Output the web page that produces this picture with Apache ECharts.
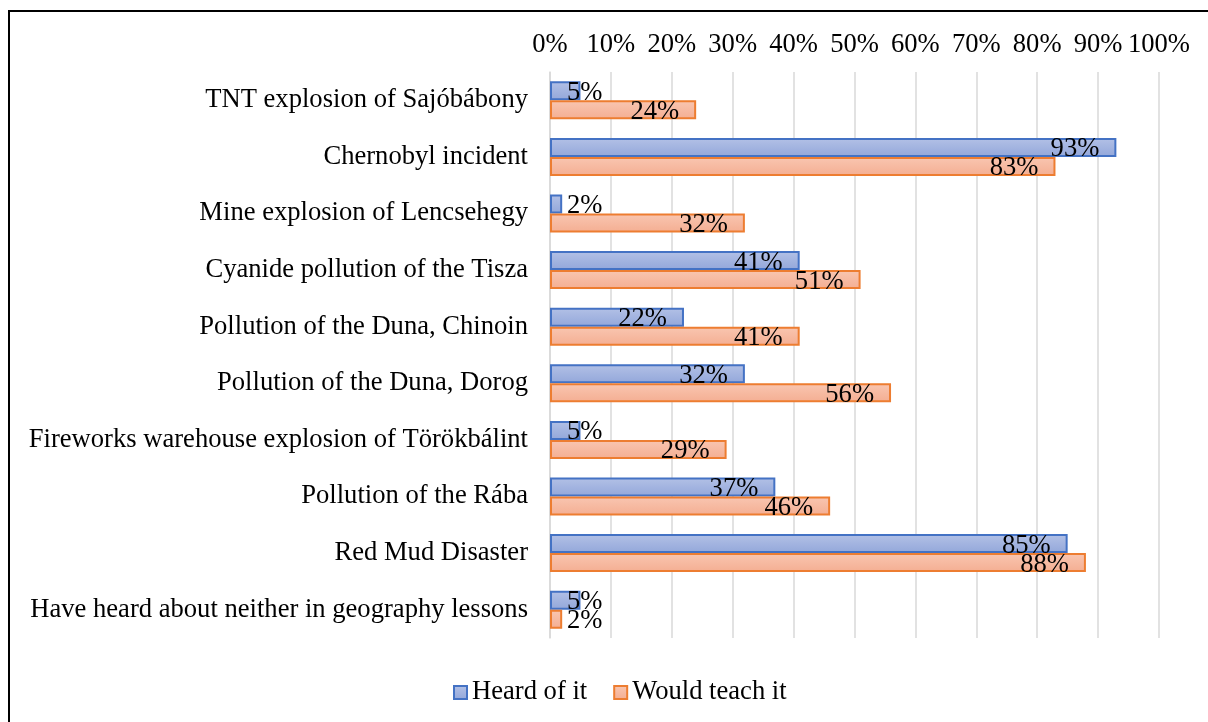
<!DOCTYPE html>
<html>
<head>
<meta charset="utf-8">
<script src="https://cdn.jsdelivr.net/npm/echarts@6/dist/echarts.min.js"></script>
<style>html,body{margin:0;padding:0;background:#fff}#c{width:1208px;height:722px}</style>
</head>
<body>
<div id="c"></div>
<script>
const categories = [
  "TNT explosion of Sajóbábony",
  "Chernobyl incident",
  "Mine explosion of Lencsehegy",
  "Cyanide pollution of the Tisza",
  "Pollution of the Duna, Chinoin",
  "Pollution of the Duna, Dorog",
  "Fireworks warehouse explosion of Törökbálint",
  "Pollution of the Rába",
  "Red Mud Disaster",
  "Have heard about neither in geography lessons"
];
const heardOfIt = [5, 93, 2, 41, 22, 32, 5, 37, 85, 5];
const wouldTeachIt = [24, 83, 32, 51, 41, 56, 29, 46, 88, 2];
const tickValues = [0, 10, 20, 30, 40, 50, 60, 70, 80, 90, 100];

const FONT = '"Liberation Serif", "Times New Roman", serif';
const FS = 26.6;

function mkData(vals) {
  return vals.map(v => {
    if (v <= 5) {
      return { value: v, label: { position: 'insideLeft', distance: 17 } };
    }
    return { value: v };
  });
}

const chart = echarts.init(document.getElementById('c'), null, { renderer: 'canvas' });
chart.setOption({
  animation: false,
  backgroundColor: '#fff',
  textStyle: { fontFamily: FONT },
  graphic: [{
    type: 'rect', x: 9, y: 11, silent: true,
    shape: { x: 0, y: 0, width: 1400, height: 900 },
    style: { fill: 'none', stroke: '#000', lineWidth: 2 }
  }],
  legend: {
    left: 448, top: 674, icon: 'rect',
    itemWidth: 13, itemHeight: 13, itemGap: 26,
    textStyle: { fontFamily: FONT, fontSize: FS, color: '#000' },
    data: ['Heard of it', 'Would teach it']
  },
  grid: { left: 550, right: 49, top: 72, bottom: 84, containLabel: false },
  xAxis: {
    type: 'value', position: 'top', min: 0, max: 100, interval: 10,
    axisLine: { show: false }, axisTick: { show: false },
    axisLabel: { formatter: v => tickValues.includes(v) ? v + '%' : '', fontFamily: FONT, fontSize: FS, color: '#000', margin: 13 },
    splitLine: { show: true, lineStyle: { color: '#d9d9d9', width: 1.5 } }
  },
  yAxis: {
    type: 'category', inverse: true, data: categories,
    axisLine: { show: true, lineStyle: { color: '#d9d9d9', width: 1.5 } },
    axisTick: { show: false },
    axisLabel: { fontFamily: FONT, fontSize: FS, color: '#000', margin: 22 }
  },
  series: [
    {
      name: 'Heard of it', type: 'bar', data: mkData(heardOfIt),
      barWidth: 19, barGap: '0%',
      itemStyle: {
        color: new echarts.graphic.LinearGradient(0, 0, 0, 1, [
          { offset: 0, color: '#b3c1e6' }, { offset: 1, color: '#93a7da' }
        ]),
        borderColor: '#4472c4', borderWidth: 2
      },
      label: { show: true, position: 'insideRight', distance: 17, offset: [0, 2], formatter: '{c}%', fontFamily: FONT, fontSize: FS, color: '#000' }
    },
    {
      name: 'Would teach it', type: 'bar', data: mkData(wouldTeachIt),
      barWidth: 19, barGap: '0%',
      itemStyle: {
        color: new echarts.graphic.LinearGradient(0, 0, 0, 1, [
          { offset: 0, color: '#f9c6b1' }, { offset: 1, color: '#f4ae92' }
        ]),
        borderColor: '#ed7d31', borderWidth: 2
      },
      label: { show: true, position: 'insideRight', distance: 17, offset: [0, 2], formatter: '{c}%', fontFamily: FONT, fontSize: FS, color: '#000' }
    }
  ]
});
</script>
</body>
</html>
